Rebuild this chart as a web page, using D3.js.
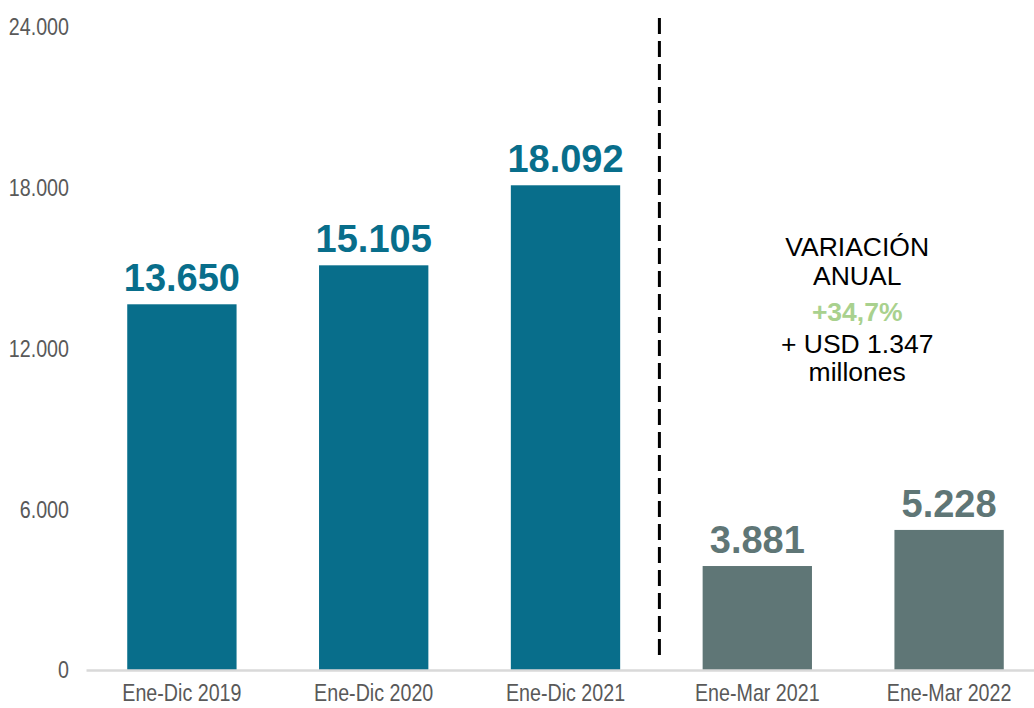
<!DOCTYPE html>
<html>
<head>
<meta charset="utf-8">
<script src="https://cdn.jsdelivr.net/npm/d3@7"></script>
<style>
  body { margin: 0; background: #fff; }
  svg { display: block; }
</style>
</head>
<body>
<script>
let width = 1034, height = 708;
let margin = { top: 27, right: -11, bottom: 38, left: 86 };

// datos
let categories = ['Ene-Dic 2019', 'Ene-Dic 2020', 'Ene-Dic 2021', 'Ene-Mar 2021', 'Ene-Mar 2022'];
let values = [13650, 15105, 18092, 3881, 5228];
let groups = ['anual', 'anual', 'anual', 'trimestre', 'trimestre'];
let yTicks = [0, 6000, 12000, 18000, 24000];
let noteLines = ['VARIACIÓN', 'ANUAL', '+34,7%', '+ USD 1.347', 'millones'];

let colors = { anual: '#086e8b', trimestre: '#5f7676' };
let fmt = d3.formatLocale({ decimal: ',', thousands: '.', grouping: [3], currency: ['', ''] }).format(',d');

let data = categories.map((c, i) => ({ name: c, value: values[i], group: groups[i] }));

let svg = d3.select('body').append('svg')
    .attr('width', width).attr('height', height);

let x = d3.scaleBand()
    .domain(categories)
    .range([margin.left, width - margin.right])
    .paddingInner(0.43)
    .paddingOuter(0.215);

let y = d3.scaleLinear()
    .domain([0, 24000])
    .range([height - margin.bottom, margin.top]);

// las etiquetas de los ejes usan una letra estrecha: se comprime en x
let narrow = 'scale(0.82,1)';

// eje y (solo etiquetas)
svg.append('g')
    .attr('transform', `translate(${margin.left - 17}, 0)`)
    .call(d3.axisLeft(y).tickValues(yTicks).tickFormat(fmt).tickSize(0).tickPadding(0))
    .call(g => g.select('.domain').remove())
    .call(g => g.selectAll('text')
        .attr('fill', '#595959')
        .attr('font-size', 24)
        .attr('font-family', '"Liberation Sans", Arial, sans-serif')
        .attr('transform', narrow)
        .attr('dy', '0.33em'));

// barras
svg.append('g').selectAll('rect')
    .data(data)
    .join('rect')
    .attr('x', d => x(d.name))
    .attr('y', d => y(d.value))
    .attr('width', x.bandwidth())
    .attr('height', d => y(0) - y(d.value))
    .attr('fill', d => colors[d.group]);

// eje x
svg.append('g')
    .attr('transform', `translate(0, ${y(0)})`)
    .call(d3.axisBottom(x).tickSize(0).tickPadding(14))
    .call(g => g.select('.domain').attr('stroke', '#d9d9d9').attr('stroke-width', 2.5))
    .call(g => g.selectAll('text')
        .attr('fill', '#595959')
        .attr('font-size', 24)
        .attr('font-family', '"Liberation Sans", Arial, sans-serif')
        .attr('transform', narrow));

// etiquetas de valor
svg.append('g').selectAll('text')
    .data(data)
    .join('text')
    .attr('x', d => x(d.name) + x.bandwidth() / 2)
    .attr('y', d => y(d.value) - 13)
    .attr('text-anchor', 'middle')
    .attr('font-family', '"Liberation Sans", Arial, sans-serif')
    .attr('font-weight', 'bold')
    .attr('font-size', 38)
    .attr('fill', d => colors[d.group])
    .text(d => fmt(d.value));

// separador
let gapLeft = x(categories[2]) + x.bandwidth();
let sepX = gapLeft + (x(categories[3]) - gapLeft) / 2 - 2;
svg.append('line')
    .attr('x1', sepX).attr('x2', sepX)
    .attr('y1', 18).attr('y2', y(0) - 9)
    .attr('stroke', '#000')
    .attr('stroke-width', 3)
    .attr('stroke-dasharray', '16,7');

// nota de variación
let noteX = (x(categories[3]) + x(categories[4]) + x.bandwidth()) / 2 + 4;
let noteY = [256, 285, 321, 353, 381];
svg.append('g').selectAll('text')
    .data(noteLines)
    .join('text')
    .attr('x', noteX)
    .attr('y', (d, i) => noteY[i])
    .attr('text-anchor', 'middle')
    .attr('font-family', '"Liberation Sans", Arial, sans-serif')
    .attr('font-size', 26.5)
    .attr('font-weight', (d, i) => i == 2 ? 'bold' : 'normal')
    .attr('fill', (d, i) => i == 2 ? '#a9d18e' : '#000')
    .text(d => d);
</script>
</body>
</html>
